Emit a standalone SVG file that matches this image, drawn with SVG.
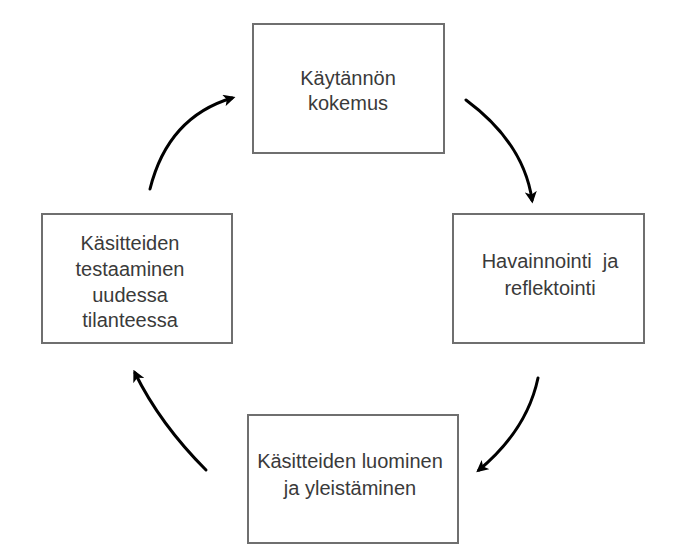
<svg xmlns="http://www.w3.org/2000/svg" width="690" height="552" viewBox="0 0 690 552">
<style>
.box{fill:#fff;stroke:#6f6f6f;stroke-width:2}
.lbl{font-family:"Liberation Sans",Arial,sans-serif;font-size:20px;fill:#3a3a3a;text-anchor:middle}
.arr{fill:none;stroke:#000;stroke-width:3;stroke-linecap:round;marker-end:url(#ah)}
</style>
<defs>
<marker id="ah" viewBox="0 0 10 10" refX="7" refY="5" markerWidth="4" markerHeight="4" orient="auto" markerUnits="strokeWidth">
<path d="M0,0 L10,5 L0,10 L2.5,5 Z" fill="#000"/>
</marker>
</defs>
<rect width="690" height="552" fill="#fff"/>
<g id="node-kokemus">
<rect class="box" x="253" y="24" width="191" height="129"/>
<text class="lbl" x="348" y="85">Käytännön</text>
<text class="lbl" x="348" y="110">kokemus</text>
</g>
<g id="node-havainnointi">
<rect class="box" x="453" y="214" width="191" height="129"/>
<text class="lbl" x="550" y="268" xml:space="preserve">Havainnointi  ja</text>
<text class="lbl" x="550" y="295">reflektointi</text>
</g>
<g id="node-luominen">
<rect class="box" x="248" y="415" width="210" height="128"/>
<text class="lbl" x="350" y="468">Käsitteiden luominen</text>
<text class="lbl" x="350" y="495">ja yleistäminen</text>
</g>
<g id="node-testaaminen">
<rect class="box" x="42" y="214" width="190" height="129"/>
<text class="lbl" x="130" y="250">Käsitteiden</text>
<text class="lbl" x="130" y="276">testaaminen</text>
<text class="lbl" x="130" y="302">uudessa</text>
<text class="lbl" x="130" y="327">tilanteessa</text>
</g>
<g id="connectors">
<path class="arr" d="M466,100 Q524,143 532,200"/>
<path class="arr" d="M538,378 Q527,430 479,470"/>
<path class="arr" d="M206,470 Q160,424 135,373"/>
<path class="arr" d="M150,189 Q168,117 232,98"/>
</g>
</svg>
